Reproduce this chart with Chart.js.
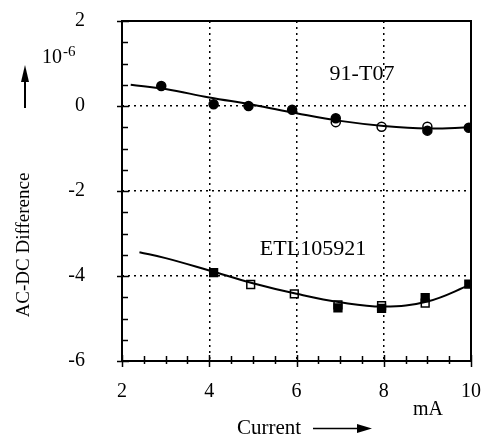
<!DOCTYPE html>
<html>
<head>
<meta charset="utf-8">
<script src="https://cdn.jsdelivr.net/npm/chart.js@4.4.0/dist/chart.umd.min.js"></script>
<style>
  html, body { margin: 0; padding: 0; background: #fff; }
  #box { width: 482px; height: 437px; }
</style>
</head>
<body>
<div id="box"><canvas id="grafico"></canvas></div>
<script>
// valores (corrente em mA, diferença AC-DC em 10^-6)
const t07CheioX = [2.9, 4.1, 4.9, 5.9, 6.9, 9.0, 9.95];
const t07CheioY = [0.47, 0.04, 0.0, -0.09, -0.29, -0.58, -0.51];
const t07AbertoX = [6.9, 7.95, 9.0];
const t07AbertoY = [-0.38, -0.49, -0.49];
const t07AjusteX = [2.2, 3, 4, 5, 6, 7, 8, 9, 10];
const t07AjusteY = [0.5, 0.4, 0.2, 0.03, -0.17, -0.35, -0.47, -0.53, -0.5];

const etlCheioX = [4.1, 6.95, 7.95, 8.95, 9.95];
const etlCheioY = [-3.92, -4.75, -4.76, -4.51, -4.19];
const etlAbertoX = [4.95, 5.95, 6.95, 7.95, 8.95];
const etlAbertoY = [-4.2, -4.42, -4.68, -4.7, -4.64];
const etlAjusteX = [2.4, 3, 4, 5, 6, 7, 8, 9, 10];
const etlAjusteY = [-3.44, -3.58, -3.87, -4.17, -4.42, -4.62, -4.72, -4.6, -4.2];

const xMarcas = [2, 4, 6, 8, 10];
const yMarcas = [-6, -4, -2, 0, 2];
const xGrade = [4, 6, 8];
const yGrade = [-4, -2, 0];

const SERIF = '"Liberation Serif", "Times New Roman", serif';

const pares = (xs, ys) => xs.map((x, i) => ({ x: x, y: ys[i] }));

// moldura, marcas internas e textos soltos
const extras = {
  id: 'extras',
  afterDraw(chart) {
    const { ctx, chartArea: a, scales } = chart;
    ctx.save();
    ctx.strokeStyle = '#000';
    ctx.lineWidth = 2;
    ctx.strokeRect(a.left, a.top, a.right - a.left, a.bottom - a.top);

    ctx.lineWidth = 1.5;
    scales.y.ticks.forEach(t => {
      const py = Math.round(scales.y.getPixelForValue(t.value)) + 0.5;
      const major = yMarcas.includes(t.value);
      ctx.beginPath();
      ctx.moveTo(a.left - (major ? 5 : 0), py);
      ctx.lineTo(a.left + (major ? 7 : 6), py);
      ctx.stroke();
    });
    scales.x.ticks.forEach(t => {
      const px = Math.round(scales.x.getPixelForValue(t.value)) + 0.5;
      const major = xMarcas.includes(t.value);
      ctx.beginPath();
      ctx.moveTo(px, a.bottom + (major ? 6 : 3));
      ctx.lineTo(px, a.bottom - (major ? 6 : 5));
      ctx.stroke();
    });

    ctx.fillStyle = '#000';
    ctx.textBaseline = 'alphabetic';

    // rótulos das curvas
    ctx.font = '22px ' + SERIF;
    ctx.textAlign = 'center';
    ctx.fillText('91-T07', 362, 80);
    ctx.fillText('ETL105921', 313, 255);

    // 10^-6 e seta do eixo y
    ctx.font = '20px ' + SERIF;
    ctx.textAlign = 'left';
    ctx.fillText('10', 42, 63);
    ctx.font = '15px ' + SERIF;
    ctx.fillText('-6', 63, 56);

    ctx.beginPath();
    ctx.moveTo(25, 108);
    ctx.lineTo(25, 76);
    ctx.lineWidth = 2;
    ctx.stroke();
    ctx.beginPath();
    ctx.moveTo(25, 65);
    ctx.lineTo(21, 82);
    ctx.lineTo(29, 82);
    ctx.closePath();
    ctx.fill();

    // título do eixo y
    ctx.save();
    ctx.translate(29, 245);
    ctx.rotate(-Math.PI / 2);
    ctx.font = '19px ' + SERIF;
    ctx.textAlign = 'center';
    ctx.fillText('AC-DC Difference', 0, 0);
    ctx.restore();

    // título do eixo x
    ctx.font = '20px ' + SERIF;
    ctx.textAlign = 'left';
    ctx.fillText('mA', 413, 415);
    ctx.font = '21px ' + SERIF;
    ctx.fillText('Current', 237, 434);
    ctx.beginPath();
    ctx.moveTo(313, 428.5);
    ctx.lineTo(360, 428.5);
    ctx.lineWidth = 1.5;
    ctx.stroke();
    ctx.beginPath();
    ctx.moveTo(372, 428.5);
    ctx.lineTo(357, 424);
    ctx.lineTo(357, 433);
    ctx.closePath();
    ctx.fill();
    ctx.restore();
  }
};

document.addEventListener('DOMContentLoaded', () => {
  const ctx = document.getElementById('grafico');

  const linha = (xs, ys) => ({
    type: 'line',
    data: pares(xs, ys),
    borderColor: '#000',
    borderWidth: 2,
    pointRadius: 0,
    tension: 0.4,
    fill: false
  });
  const pontos = (xs, ys, estilo, cheio) => ({
    type: 'scatter',
    data: pares(xs, ys),
    pointStyle: estilo,
    pointRadius: estilo === 'rect' ? 5.5 : 4.5,
    borderColor: '#000',
    borderWidth: 1.5,
    backgroundColor: cheio ? '#000' : '#fff'
  });

  new Chart(ctx, {
    data: {
      datasets: [
        linha(t07AjusteX, t07AjusteY),
        linha(etlAjusteX, etlAjusteY),
        pontos(t07CheioX, t07CheioY, 'circle', true),
        pontos(t07AbertoX, t07AbertoY, 'circle', false),
        pontos(etlCheioX, etlCheioY, 'rect', true),
        pontos(etlAbertoX, etlAbertoY, 'rect', false)
      ]
    },
    options: {
      responsive: true,
      maintainAspectRatio: false,
      animation: false,
      layout: { padding: { top: 21, right: 11, left: 0, bottom: 0 } },
      plugins: { legend: { display: false }, tooltip: { enabled: false } },
      scales: {
        x: {
          type: 'linear',
          min: 2,
          max: 10,
          afterFit: s => { s.height = 76; s.paddingLeft = 0; s.paddingRight = 0; },
          ticks: {
            stepSize: 0.5,
            autoSkip: false,
            maxRotation: 0,
            padding: 19,
            color: '#000',
            font: { family: SERIF, size: 20 },
            callback: v => (xMarcas.includes(v) ? String(v) : '')
          },
          grid: {
            drawTicks: false,
            lineWidth: 1.5,
            color: c => (c.tick && xGrade.includes(c.tick.value) ? '#000' : 'rgba(0,0,0,0)')
          },
          border: { display: false, dash: [2, 4] }
        },
        y: {
          type: 'linear',
          min: -6,
          max: 2,
          afterFit: s => { s.width = 122; s.paddingTop = 0; s.paddingBottom = 0; },
          ticks: {
            stepSize: 0.5,
            autoSkip: false,
            padding: 37,
            color: '#000',
            font: { family: SERIF, size: 20 },
            callback: v => (yMarcas.includes(v) ? String(v) : '')
          },
          grid: {
            drawTicks: false,
            lineWidth: 1.5,
            color: c => (c.tick && yGrade.includes(c.tick.value) ? '#000' : 'rgba(0,0,0,0)')
          },
          border: { display: false, dash: [2, 4] }
        }
      }
    },
    plugins: [extras]
  });
});
</script>
</body>
</html>
